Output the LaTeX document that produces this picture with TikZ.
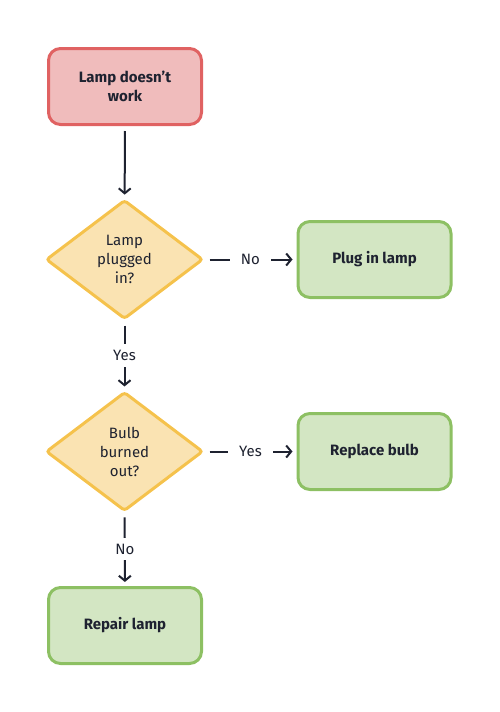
\documentclass[tikz,border=0pt]{standalone}
\usepackage{fontspec}
\setmainfont{Fira Sans}
\usetikzlibrary{shapes.geometric,arrows.meta}
\definecolor{redfill}{HTML}{F0BCBC}
\definecolor{redline}{HTML}{E06262}
\definecolor{yelfill}{HTML}{FAE3B2}
\definecolor{yelline}{HTML}{F5C24C}
\definecolor{grnfill}{HTML}{D3E6C3}
\definecolor{grnline}{HTML}{8DC063}
\definecolor{ink}{HTML}{1E2230}
\tikzset{
  base/.style={line width=3pt, text=ink, align=center, inner sep=0pt,
    font=\fontsize{15}{19}\selectfont},
  startbox/.style={base, rectangle, rounded corners=12pt, minimum width=153pt,
    minimum height=76pt, draw=redline, fill=redfill, font=\fontsize{15}{19}\selectfont\bfseries},
  endbox/.style={base, rectangle, rounded corners=12pt, minimum width=153pt,
    minimum height=76pt, draw=grnline, fill=grnfill, font=\fontsize{15}{19}\selectfont\bfseries},
  decision/.style={base, diamond, rounded corners=3pt, minimum width=157pt,
    minimum height=119pt, draw=yelline, fill=yelfill},
  conn/.style={line width=2pt, draw=ink, -{Straight Barb[length=5pt,width=12pt,line width=2pt]},
    shorten <=5pt, shorten >=4pt},
  lbl/.style={fill=white, text=ink, inner xsep=11pt, inner ysep=6pt,
    font=\fontsize{15}{17}\selectfont}
}
\begin{document}
\begin{tikzpicture}[x=1pt,y=-1pt]
\useasboundingbox (0,0) rectangle (500,712);
\node[startbox] (start) at (125,86.5) {Lamp doesn’t\\work};
\node[decision] (d1) at (124.5,259.5) {Lamp\\plugged\\in?};
\node[endbox] (plug) at (374.5,259.5) {Plug in lamp};
\node[decision] (d2) at (124.5,451.5) {Bulb\\burned\\out?};
\node[endbox] (bulb) at (374.5,451.5) {Replace bulb};
\node[endbox] (repair) at (125,625.5) {Repair lamp};
\draw[conn] (start) -- (d1);
\draw[conn] (d1) -- node[lbl] (lno1) {No} (plug);
\draw[conn] (d1) -- node[lbl] (lyes1) {Yes} (d2);
\draw[conn] (d2) -- node[lbl] (lyes2) {Yes} (bulb);
\draw[conn] (d2) -- node[lbl] (lno2) {No} (repair);
\end{tikzpicture}
\end{document}
